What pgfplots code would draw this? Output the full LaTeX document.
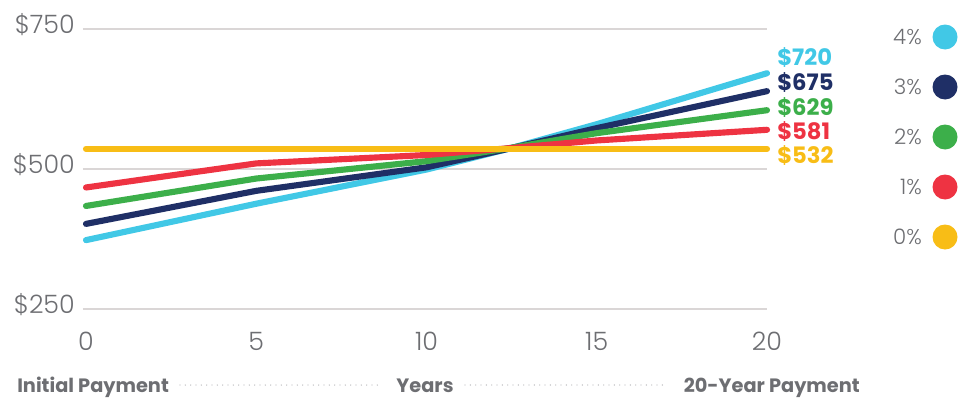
\documentclass[border=0pt]{standalone}
\usepackage{fontspec}
\setmainfont{Poppins}
\newfontfamily\lightfont{Poppins Light}
\usepackage{pgfplots}
\pgfplotsset{compat=1.18}
\definecolor{cCyan}{HTML}{41C8E6}
\definecolor{cNavy}{HTML}{1F2F66}
\definecolor{cGreen}{HTML}{3CAF4A}
\definecolor{cRed}{HTML}{EE3342}
\definecolor{cYellow}{HTML}{F8BD16}
\definecolor{txtgray}{HTML}{6D6E72}
\definecolor{gridgray}{HTML}{DAD6D6}
\definecolor{dotgray}{HTML}{B5B5B8}
\begin{document}
\begin{tikzpicture}[x=0.75pt,y=0.75pt]
\path[use as bounding box] (0,0) rectangle (959,401);
\begin{axis}[
  at={(62.25pt,69pt)}, anchor=south west,
  width=513pt, height=210pt, scale only axis,
  xmin=-0.088, xmax=20, ymin=250, ymax=750,
  axis line style={draw=none},
  major tick length=0pt,
  xtick={0,5,10,15,20}, xticklabels={0,5,10,15,20},
  ytick={250,500,750}, yticklabels={\$250,\$500,\$750},
  ymajorgrids, grid style={gridgray, line width=1.5pt},
  tick label style={font=\lightfont\fontsize{19}{19}\selectfont, text=txtgray, inner sep=0pt},
  yticklabel style={anchor=base east, xshift=-6pt, yshift=-3pt},
  xticklabel style={anchor=base, yshift=-30.75pt},
  clip=false,
]
\addplot[cCyan, line width=4.6pt, line cap=round, line join=round]
  coordinates {(0,373) (5,438) (10,499) (12.4,536) (15,580) (20,671)};
\addplot[cNavy, line width=4.6pt, line cap=round, line join=round]
  coordinates {(0,402) (5,461) (10,503) (12.4,536) (15,573) (20,639)};
\addplot[cGreen, line width=4.6pt, line cap=round, line join=round]
  coordinates {(0,434) (5,483) (10,514) (12.4,537) (15,564) (20,605)};
\addplot[cRed, line width=4.6pt, line cap=round, line join=round]
  coordinates {(0,467) (5,510) (10,525) (12.4,537) (15,551) (20,570)};
\addplot[cYellow, line width=4.6pt, line cap=round, line join=round]
  coordinates {(0,536) (5,536) (10,536) (15,536) (20,536)};
\end{axis}
% end value labels
\begin{scope}[every node/.style={anchor=base west, inner sep=0pt, font=\bfseries\fontsize{17}{17}\selectfont}]
\node[text=cCyan]   at (777,335.3) {\$720};
\node[text=cNavy]   at (777,310.3) {\$675};
\node[text=cGreen]  at (777,286)   {\$629};
\node[text=cRed]    at (777,262)   {\$581};
\node[text=cYellow] at (777,238)   {\$532};
\end{scope}
% legend
\begin{scope}[every node/.style={anchor=base east, inner sep=0pt, text=txtgray, font=\lightfont\fontsize{16}{16}\selectfont}]
\node at (922,357) {4\%}; \fill[cCyan]   (945,364) circle (12.5);
\node at (922,307) {3\%}; \fill[cNavy]   (945,314) circle (12.5);
\node at (922,257) {2\%}; \fill[cGreen]  (945,264) circle (12.5);
\node at (922,207) {1\%}; \fill[cRed]    (945,214) circle (12.5);
\node at (922,157) {0\%}; \fill[cYellow] (945,164) circle (12.5);
\end{scope}
% bottom labels
\begin{scope}[every node/.style={inner sep=0pt, text=txtgray, font=\bfseries\fontsize{14.5}{14.5}\selectfont}]
\node[anchor=base west] at (17,9) {Initial Payment};
\node[anchor=base] at (425,9) {Years};
\node[anchor=base east] at (860,9) {20-Year Payment};
\end{scope}
\draw[dotgray, line width=1pt, line cap=round, dash pattern=on 0pt off 4] (180,16) -- (380,16);
\draw[dotgray, line width=1pt, line cap=round, dash pattern=on 0pt off 4] (465,16) -- (665,16);
\end{tikzpicture}
\end{document}
